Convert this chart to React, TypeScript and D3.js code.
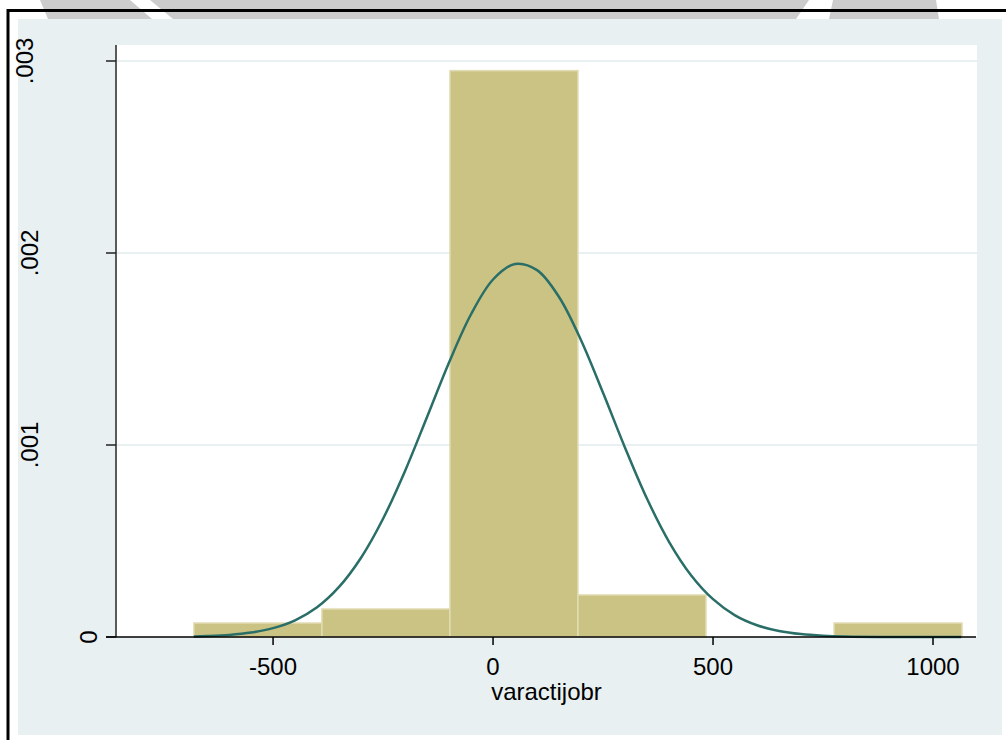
import React from "react";
import * as d3 from "d3";

// histogram of varactijobr (density), 6 bins
const binStarts = [-680, -389, -98, 193, 484, 775];
const binWidth = 291;
const binDensity = [0.000073, 0.000146, 0.00295, 0.000219, 0, 0.000073];

// normal density overlay
const curveX = [
  -680, -650, -600, -550, -500, -450, -400, -350, -300, -250, -200, -150, -100,
  -50, 0, 50, 100, 150, 200, 250, 300, 350, 400, 450, 500, 550, 600, 650, 700,
  750, 800, 900, 1000, 1064,
];
const curveY = [
  0.0000028, 0.0000048, 0.0000107, 0.0000229, 0.000046, 0.0000871, 0.000155,
  0.000261, 0.000413, 0.000616, 0.000865, 0.001146, 0.00143, 0.001681,
  0.001862, 0.001943, 0.001911, 0.001771, 0.001546, 0.001272, 0.000986,
  0.00072, 0.000496, 0.000322, 0.000197, 0.000113, 0.0000614, 0.0000313,
  0.0000151, 0.0000069, 0.0000029, 0.0000005, 0.0000001, 0,
];

const xTicks = [-500, 0, 500, 1000];
const yTicks = [0, 0.001, 0.002, 0.003];
const yTickLabels = ["0", ".001", ".002", ".003"];
const xTitle = "varactijobr";

const W = 1006;
const H = 740;
const plot = { left: 116, right: 977, top: 45, bottom: 637 };
const font = "'Liberation Sans', Arial, sans-serif";

export default function App() {
  const x = d3.scaleLinear().domain([-857, 1100]).range([plot.left, plot.right]);
  const y = d3.scaleLinear().domain([0, 0.003]).range([plot.bottom, 61]);

  const line = d3
    .line<number>()
    .x((d) => x(d))
    .y((d, i) => y(curveY[i]))
    .curve(d3.curveCatmullRom);

  // baseline x of the rotated y labels
  const labelX = (i: number) => (i === 0 ? 97 : i === 3 ? 33 : 38);

  return (
    <div style={{ position: "fixed", left: 0, top: 0 }}>
      <svg width={W} height={H} style={{ display: "block", background: "#fff" }}>
        {/* gray strip on top with white gaps */}
        <rect x={0} y={0} width={W} height={19} fill="#cccccc" />
        <polygon points="0,0 40,0 48,19 0,19" fill="#fff" />
        <polygon points="130,0 150,0 173,19 152,19" fill="#fff" />
        <polygon points="809,0 833,0 829,19 796,19" fill="#fff" />
        <polygon points="936,0 1006,0 1006,19 939,19" fill="#fff" />
        <rect x={8} y={10} width={10} height={H} fill="#fff" />

        {/* frame lines */}
        <line x1={8} x2={W} y1={10.5} y2={10.5} stroke="#000" strokeWidth={3} />
        <line x1={8} x2={8} y1={9} y2={H} stroke="#000" strokeWidth={3} />

        {/* graph background */}
        <rect x={18} y={19} width={984} height={716} fill="#e8f0f2" />
        {/* plot region */}
        <rect
          x={plot.left}
          y={plot.top}
          width={plot.right - plot.left}
          height={plot.bottom - plot.top}
          fill="#fff"
        />

        {/* grid */}
        {yTicks.slice(1).map((t) => (
          <line
            key={t}
            x1={plot.left}
            x2={plot.right}
            y1={y(t)}
            y2={y(t)}
            stroke="#e8f0f2"
            strokeWidth={2}
          />
        ))}

        {/* bars */}
        {binStarts.map((s, i) =>
          binDensity[i] > 0 ? (
            <rect
              key={s}
              x={x(s)}
              y={y(binDensity[i])}
              width={x(s + binWidth) - x(s)}
              height={y(0) - y(binDensity[i])}
              fill="#cbc384"
              stroke="#e2dcb4"
              strokeWidth={1.5}
            />
          ) : null
        )}

        {/* normal curve */}
        <path
          d={line(curveX) || ""}
          fill="none"
          stroke="#2a6e68"
          strokeWidth={2.5}
        />

        {/* y axis */}
        <line
          x1={plot.left}
          x2={plot.left}
          y1={plot.top}
          y2={plot.bottom}
          stroke="#5a5a5a"
          strokeWidth={2}
        />
        {yTicks.map((t, i) => (
          <g key={t}>
            <line
              x1={106}
              x2={plot.left}
              y1={y(t)}
              y2={y(t)}
              stroke="#222"
              strokeWidth={1.5}
            />
            <text
              transform={`translate(${labelX(i)},${y(t)}) rotate(-90)`}
              textAnchor="middle"
              fontFamily={font}
              fontSize={24}
              fill="#000"
            >
              {yTickLabels[i]}
            </text>
          </g>
        ))}

        {/* x axis */}
        <line
          x1={106}
          x2={976}
          y1={plot.bottom}
          y2={plot.bottom}
          stroke="#000"
          strokeWidth={1.5}
        />
        {xTicks.map((t) => (
          <g key={t}>
            <line
              x1={x(t)}
              x2={x(t)}
              y1={plot.bottom}
              y2={plot.bottom + 8}
              stroke="#000"
              strokeWidth={1.5}
            />
            <text
              x={x(t)}
              y={675}
              textAnchor="middle"
              fontFamily={font}
              fontSize={24}
              fill="#000"
            >
              {t}
            </text>
          </g>
        ))}
        <text
          x={(plot.left + plot.right) / 2}
          y={700}
          textAnchor="middle"
          fontFamily={font}
          fontSize={24}
          fill="#000"
        >
          {xTitle}
        </text>
      </svg>
    </div>
  );
}
